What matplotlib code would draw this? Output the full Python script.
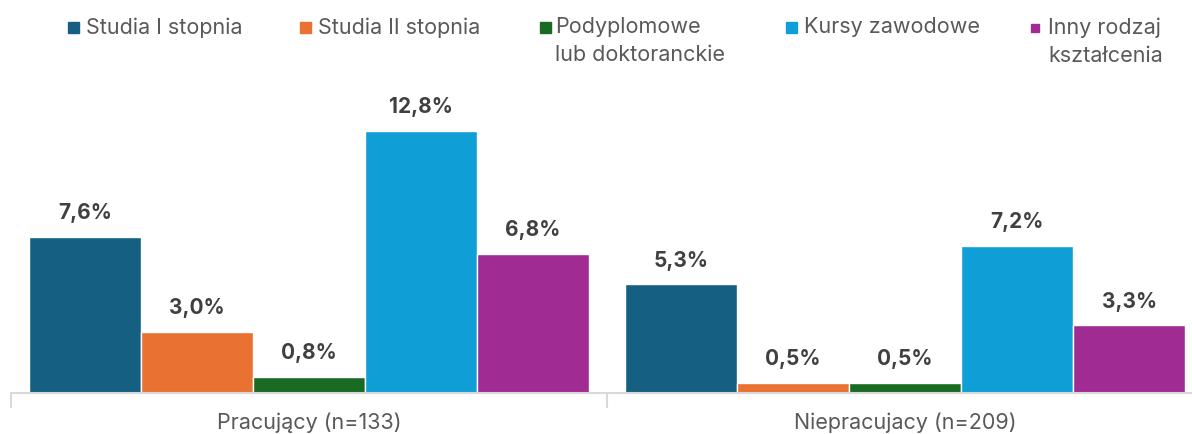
import matplotlib.pyplot as plt
import matplotlib.patches as mpatches
import numpy as np

plt.rcParams['font.family'] = ['Inter', 'DejaVu Sans']

# data
groups = ['Pracujący (n=133)', 'Niepracujacy (n=209)']
series = ['Studia I stopnia', 'Studia II stopnia', 'Podyplomowe\nlub doktoranckie',
          'Kursy zawodowe', 'Inny rodzaj\nkształcenia']
colors = ['#156082', '#E97132', '#196B24', '#0F9ED5', '#A02B93']
values = [
    [7.6, 5.3],
    [3.0, 0.5],
    [0.8, 0.5],
    [12.8, 7.2],
    [6.8, 3.3],
]

W, H = 1192, 434
fig = plt.figure(figsize=(W / 100, H / 100), dpi=100)
ax = fig.add_axes([11 / W, 41 / H, 1192 / W, 297 / H])

x = np.arange(len(groups))
bw = 0.188
for i, (vals, c) in enumerate(zip(values, colors)):
    pos = x + (i - 2) * bw
    bars = ax.bar(pos, vals, bw, color=c, edgecolor='white', linewidth=1)
    for b, v in zip(bars, vals):
        ax.annotate(f'{v:.1f}%'.replace('.', ','), (b.get_x() + b.get_width() / 2, v),
                    xytext=(0, 10), textcoords='offset points', ha='center', va='bottom',
                    fontsize=15, fontweight='bold', color='#404040')

ax.set_xlim(-0.5, 1.5)
ax.set_ylim(0, 14.5)
for s in ['top', 'right', 'left']:
    ax.spines[s].set_visible(False)
ax.spines['bottom'].set_color('#D9D9D9')
ax.spines['bottom'].set_linewidth(1.5)
ax.set_yticks([])
ax.set_xticks([-0.5, 0.5], minor=False)
ax.set_xticklabels([])
ax.tick_params(axis='x', length=11, color='#D9D9D9', width=1.5)
for xi, g in zip(x, groups):
    ax.text(xi, -1.47, g, ha='center', va='center', fontsize=15.5, color='#595959')

# legend drawn by hand
sq = [(68, 22, 11), (300, 22, 11), (540, 22, 11), (786, 22, 11), (1031, 24, 8)]
tx = [86, 318, 555, 804, 1048]
for (sx, sy, s), t, lab, c in zip(sq, tx, series, colors):
    fig.add_artist(mpatches.Rectangle((sx / W, 1 - (sy + s) / H), s / W, s / H,
                                      transform=fig.transFigure, color=c))
    fig.text(t / W, 1 - 17 / H, lab, ha='left', va='top', fontsize=15.5,
             color='#595959', linespacing=1.5)

fig.savefig('out.png', dpi=100)
